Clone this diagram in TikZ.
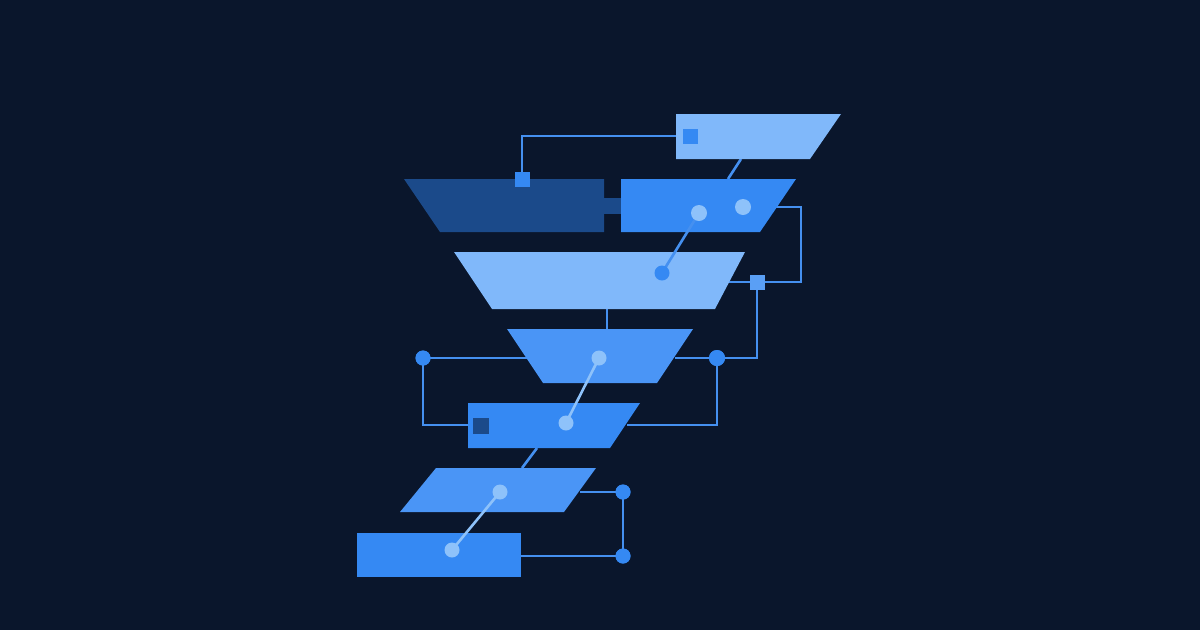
\documentclass[tikz,border=0pt]{standalone}
\begin{document}
\begin{tikzpicture}[x=1pt,y=-1pt,
  wire/.style={draw=cWire,line width=2.6pt},
  lwire/.style={draw=cLight,line width=2.6pt},
  dotB/.style={circle,fill=cBright,inner sep=0pt,minimum size=16pt},
  dotL/.style={circle,fill=cLight,inner sep=0pt,minimum size=16pt},
  sqB/.style={rectangle,fill=cBright,inner sep=0pt,minimum size=15pt},
  sqP/.style={rectangle,fill=cSq,inner sep=0pt,minimum size=15pt},
  sqD/.style={rectangle,fill=cDark,inner sep=0pt,minimum size=16pt}]
\definecolor{cBg}{HTML}{0A162C}
\definecolor{cPale}{HTML}{80B8FA}
\definecolor{cBright}{HTML}{3589F3}
\definecolor{cMid}{HTML}{4A95F6}
\definecolor{cDark}{HTML}{1B4A8A}
\definecolor{cWire}{HTML}{4590F0}
\definecolor{cLight}{HTML}{8EC2FA}
\definecolor{cSq}{HTML}{5A9FF5}
\fill[cBg] (0,0) rectangle (1200,630);
\useasboundingbox (0,0) rectangle (1200,630);
% connection coordinates
\coordinate (p2) at (676,136);
\coordinate (p3) at (801,207);
\coordinate (p4) at (801,282);
\coordinate (p5) at (725,282);
\coordinate (p6) at (423,425);
\coordinate (p7) at (468,425);
\coordinate (p8) at (627,425);
\coordinate (p9) at (717,425);
\coordinate (p10) at (675,358);
\coordinate (p11) at (540,358);
\coordinate (p12) at (580,492);
\coordinate (p13) at (520,556);
\coordinate (t1) at (741,159);
\coordinate (t2) at (728,179);
\coordinate (t3) at (607,309);
\coordinate (t4) at (607,329);
\coordinate (t5) at (537,448);
\coordinate (t6) at (522,468);
% nodes (circles, squares)
\node[sqB] (sqtop) at (522,179) {};
\node[sqB] (sqin) at (690.5,136.5) {};
\node[sqP] (sqr) at (757,282) {};
\node[dotL] (c1) at (699,213) {};
\node[dotL] (c2) at (743,207) {};
\node[dotB,minimum size=15pt] (c3) at (662,273) {};
\node[dotL,minimum size=15pt] (c4) at (599,358) {};
\node[dotB,minimum size=15pt] (c5) at (423,358) {};
\node[dotB] (c6) at (717,358) {};
\node[dotL,minimum size=15pt] (c7) at (566,423) {};
\node[dotL,minimum size=15pt] (c8) at (500,492) {};
\node[dotB,minimum size=15pt] (c9) at (623,492) {};
\node[dotB,minimum size=15pt] (c10) at (623,556) {};
\node[dotL,minimum size=15pt] (c11) at (452,550) {};
\node[sqD] (sqd) at (481,426) {};
% wires under shapes
\draw[wire] (sqtop.center) |- (p2);
\draw[wire] (c2.center) -- (p3) -- (p4) -- (p5);
\draw[wire] (sqr.center) |- (c6.center);
\draw[wire] (c6.center) -- (p10);
\draw[wire] (c5.center) -- (p11);
\draw[wire] (c5.center) -- (p6) -- (p7);
\draw[wire] (c6.center) -- (p9) -- (p8);
\draw[wire] (p12) -- (c9.center) -- (c10.center) -- (p13);
\draw[wire] (t1) -- (t2);
\draw[wire] (t3) -- (t4);
\draw[wire] (t5) -- (t6);
% shapes
\fill[cPale] (676,114) -- (841,114) -- (810,159) -- (676,159) -- cycle;
\fill[cDark] (404,179) -- (604,179) -- (604,232) -- (440,232) -- cycle;
\fill[cDark] (603,198) rectangle (627,214);
\fill[cBright] (621,179) -- (796,179) -- (760,232) -- (621,232) -- cycle;
\fill[cPale] (454,252) -- (745,252) -- (715,309) -- (492,309) -- cycle;
\fill[cMid] (507,329) -- (693,329) -- (657,383) -- (543,383) -- cycle;
\fill[cBright] (468,403) -- (640,403) -- (610,448) -- (468,448) -- cycle;
\fill[cMid] (436,468) -- (596,468) -- (564,512) -- (400,512) -- cycle;
\fill[cBright] (357,533) rectangle (521,577);
% lines over shapes
\draw[wire] (c1.center) -- (c3.center);
\draw[lwire] (c4.center) -- (c7.center);
\draw[lwire] (c8.center) -- (c11.center);
% redraw nodes on top
\node[sqB] at (sqtop) {};
\node[sqB] at (sqin) {};
\node[sqP] at (sqr) {};
\node[dotL] at (c1) {};
\node[dotL] at (c2) {};
\node[dotB,minimum size=15pt] at (c3) {};
\node[dotL,minimum size=15pt] at (c4) {};
\node[dotB,minimum size=15pt] at (c5) {};
\node[dotB] at (c6) {};
\node[dotL,minimum size=15pt] at (c7) {};
\node[dotL,minimum size=15pt] at (c8) {};
\node[dotB,minimum size=15pt] at (c9) {};
\node[dotB,minimum size=15pt] at (c10) {};
\node[dotL,minimum size=15pt] at (c11) {};
\node[sqD] at (sqd) {};
\end{tikzpicture}
\end{document}
